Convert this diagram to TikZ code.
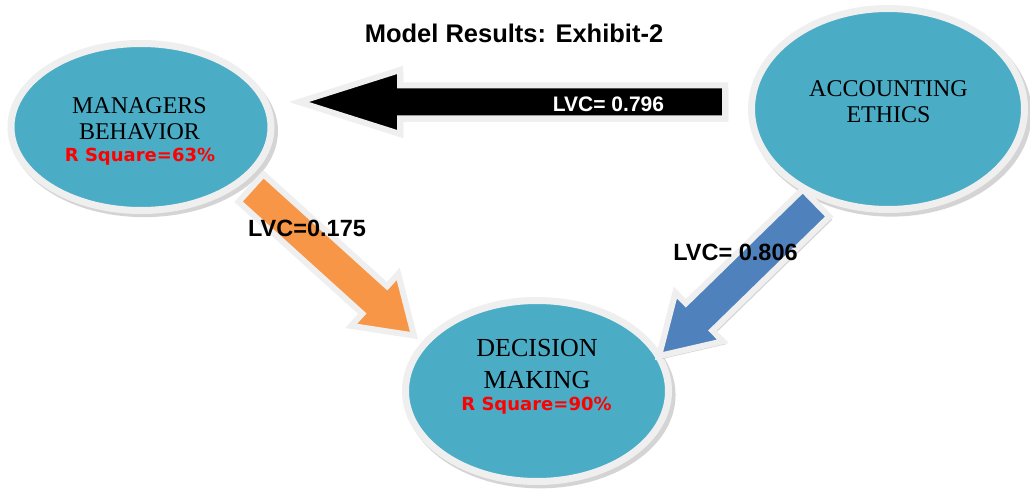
\documentclass[tikz,border=0pt]{standalone}
\usepackage{fontspec}
\setmainfont{Liberation Serif}
\setsansfont{Liberation Sans}
\newfontfamily\verdanalike{DejaVu Sans}
\usetikzlibrary{shapes.geometric,shadows,calc}

\definecolor{bubblefill}{HTML}{4BACC6}
\definecolor{rim}{HTML}{EFEFEF}
\definecolor{orangearrow}{HTML}{F79646}
\definecolor{bluearrow}{HTML}{4F81BD}

\tikzset{
  bubble/.style={ellipse, fill=bubblefill, draw=rim, line width=7pt, inner sep=0pt,
    drop shadow={shadow xshift=3pt, shadow yshift=-4pt, shadow scale=1.03,
      opacity=0.3, fill=black!55}},
  names/.style={anchor=base, font=\fontsize{24}{27}\selectfont},
  rsq/.style={anchor=base, text=red, font=\verdanalike\bfseries\fontsize{18}{20}\selectfont},
  lvc/.style={anchor=base, font=\sffamily\bfseries\fontsize{23.5}{26}\selectfont},
  title/.style={anchor=base, font=\sffamily\bfseries\fontsize{25.5}{28}\selectfont},
  fat/.style={draw=rim, line width=6pt, line join=miter,
    drop shadow={shadow xshift=3pt, shadow yshift=-3pt, opacity=0.3, fill=black!55}}
}

% block arrow: [style]{tail}{tip}{half shaft}{half head}{head length}
\newcommand{\blockarrow}[6][]{%
  \coordinate (hb) at ($(#3)!#6!(#2)$);
  \draw[fat,#1] ($(#2)!#4!90:(#3)$) -- ($(hb)!#4!90:(#3)$) -- ($(hb)!#5!90:(#3)$) -- (#3)
    -- ($(hb)!#5!-90:(#3)$) -- ($(hb)!#4!-90:(#3)$) -- ($(#2)!#4!-90:(#3)$) -- cycle;}

\begin{document}
\begin{tikzpicture}[x=1pt,y=-1pt]
  \fill[white] (0,0) rectangle (1030,489);
  \useasboundingbox (0,0) rectangle (1030,489);

  \node[title] (ttl) at (514,43) {Model Results: Exhibit-2};

  % the three constructs
  \node[bubble, minimum width=260pt, minimum height=167pt] (mb) at (141,127) {};
  \node[bubble, minimum width=273pt, minimum height=201pt] (ae) at (888,109) {};
  \node[bubble, minimum width=263pt, minimum height=181pt] (dm) at (537,391) {};

  \node[names] (mb1) at (139.5,113.3) {MANAGERS};
  \node[names] (mb2) at (139.5,140) {BEHAVIOR};
  \node[rsq] (mbr) at (140,161.5) {R Square=63\%};

  \node[names] (ae1) at (888.5,96.7) {ACCOUNTING};
  \node[names] (ae2) at (888.5,122.7) {ETHICS};

  \node[names, font=\fontsize{26}{30}\selectfont] (dm1) at (537,356.7) {DECISION};
  \node[names, font=\fontsize{26}{30}\selectfont] (dm2) at (537,388) {MAKING};
  \node[rsq] (dmr) at (536.5,410.7) {R Square=90\%};

  % arrow ends
  \coordinate (ae-left) at (725,102);
  \coordinate (mb-right) at (299,102);
  \coordinate (mb-low) at (251,188);
  \coordinate (dm-left) at (414,335.5);
  \coordinate (ae-low) at (816,203);
  \coordinate (dm-right) at (659,356);

  \blockarrow[fill=black]{ae-left}{mb-right}{16.5pt}{32pt}{101pt}
  \blockarrow[fill=orangearrow]{mb-low}{dm-left}{18.5pt}{35pt}{53pt}
  \blockarrow[fill=bluearrow]{ae-low}{dm-right}{19pt}{34pt}{56pt}

  \node[lvc, text=white, font=\sffamily\bfseries\fontsize{21}{24}\selectfont] (lvc1) at (608.5,111.5) {LVC= 0.796};
  \node[lvc] (lvc2) at (307,236.8) {LVC=0.175};
  \node[lvc] (lvc3) at (735.5,260) {LVC= 0.806};
\end{tikzpicture}
\end{document}
